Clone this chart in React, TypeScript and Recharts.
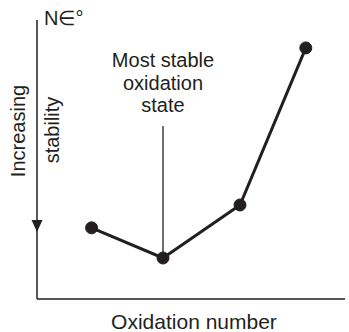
import React from 'react';
import { LineChart, Line, XAxis, YAxis, ReferenceLine, ReferenceDot } from 'recharts';

// oxidation number positions (arbitrary units) and relative free energy NE°
const oxidationSteps = [0.78, 1.8, 2.9, 3.84];
const freeEnergy = [2.55, 1.47, 3.37, 9.0];
const mostStableIndex = 1;
const calloutTop = 6.2;
const arrowLevel = 2.58;

const chartData = oxidationSteps.map((x, i) => ({ x, g: freeEnergy[i] }));

const INK = '#231f20';
const FONT = '"Liberation Sans", Arial, Helvetica, sans-serif';

const ArrowHead = (props: any) => {
    const { cx, cy } = props;
    return <path d={`M ${cx - 5.5} ${cy - 7} L ${cx + 5.5} ${cy - 7} L ${cx} ${cy + 5} Z`} fill={INK} />;
};

const App: React.FC = () => {
    return (
        <div style={{ position: 'absolute', left: 0, top: 0, width: 349, height: 332, background: '#fff' }}>
            <LineChart
                width={349}
                height={332}
                data={chartData}
                margin={{ top: 20, right: 4, left: 27, bottom: 23 }}
            >
                <XAxis
                    type="number"
                    dataKey="x"
                    domain={[0, 4.4]}
                    tick={false}
                    tickLine={false}
                    height={10}
                    axisLine={{ stroke: INK, strokeWidth: 1.5 }}
                />
                <YAxis
                    type="number"
                    domain={[0, 10]}
                    tick={false}
                    tickLine={false}
                    width={10}
                    axisLine={{ stroke: INK, strokeWidth: 1.5 }}
                />
                <ReferenceLine
                    segment={[
                        { x: oxidationSteps[mostStableIndex], y: freeEnergy[mostStableIndex] },
                        { x: oxidationSteps[mostStableIndex], y: calloutTop },
                    ]}
                    stroke={INK}
                    strokeWidth={1.3}
                    ifOverflow="visible"
                />
                <ReferenceDot x={0} y={arrowLevel} r={5} shape={ArrowHead} ifOverflow="visible" />
                <Line
                    type="linear"
                    dataKey="g"
                    stroke={INK}
                    strokeWidth={3}
                    dot={{ r: 6, fill: INK, stroke: INK, strokeWidth: 1 }}
                    isAnimationActive={false}
                />
            </LineChart>
            {/* Text annotations */}
            <svg
                width={349}
                height={332}
                style={{ position: 'absolute', left: 0, top: 0, pointerEvents: 'none' }}
                fontFamily={FONT}
                fill={INK}
            >
                <text x={44} y={25} fontSize={20}>N∈°</text>
                <text x={163} y={67} fontSize={20} textAnchor="middle">Most stable</text>
                <text x={163} y={90} fontSize={20} textAnchor="middle">oxidation</text>
                <text x={163} y={112} fontSize={20} textAnchor="middle">state</text>
                <text x={194} y={329} fontSize={21} textAnchor="middle">Oxidation number</text>
                <text transform="translate(25,131) rotate(-90)" fontSize={20} textAnchor="middle">Increasing</text>
                <text transform="translate(59,130) rotate(-90)" fontSize={20} textAnchor="middle">stability</text>
            </svg>
        </div>
    );
};

export default App;
